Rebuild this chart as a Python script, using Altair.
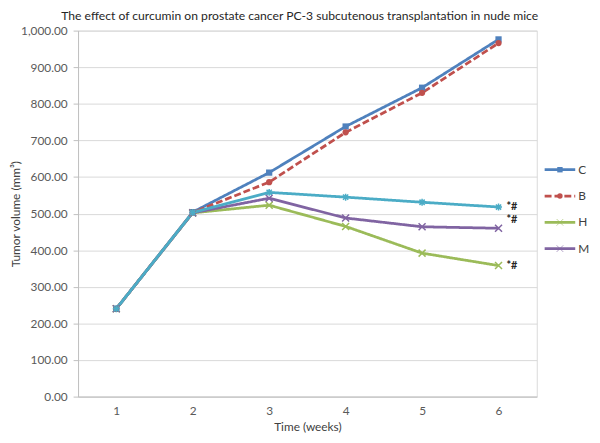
import altair as alt
import pandas as pd

weeks = [1, 2, 3, 4, 5, 6]
series_names = ["C", "B", "H", "M", "L"]
vol_C = [240, 504, 612, 738, 844, 976]
vol_B = [240, 503, 586, 722, 830, 966]
vol_H = [240, 502, 523, 465, 392, 358]
vol_M = [240, 502, 542, 488, 464, 460]
vol_L = [240, 503, 558, 545, 531, 518]
series_colors = ["#4F81BD", "#C0504D", "#9BBB59", "#8064A2", "#4BACC6"]

legend_names = ["C", "B", "H", "M"]
legend_rank = [0, 1, 2, 3]

annot_series = ["L", "M", "H"]
annot_week = [6, 6, 6]
annot_values = [518, 482, 358]
annot_text = ["*#", "*#", "*#"]

y_ticks = [0, 100, 200, 300, 400, 500, 600, 700, 800, 900, 1000]

X_PATH = "M-1,-1L1,1M-1,1L1,-1"
AST_PATH = "M-1,0L1,0M0,-1L0,1M-0.75,-0.75L0.75,0.75M-0.75,0.75L0.75,-0.75"
shape_range = ["square", "circle", X_PATH, X_PATH, AST_PATH]
dash_range = [[1, 0], [7, 3], [1, 0], [1, 0], [1, 0]]

rows = []
for name, vals in zip(series_names, [vol_C, vol_B, vol_H, vol_M, vol_L]):
    for w, v in zip(weeks, vals):
        rows.append({"series": name, "week": w, "volume": v})
df = pd.DataFrame(rows)

annot_df = pd.DataFrame({"series": annot_series, "week": annot_week,
                         "volume": annot_values, "label": annot_text})
legend_df = pd.DataFrame({"series": legend_names, "rank": legend_rank})

color_enc = alt.Color("series:N", scale=alt.Scale(domain=series_names, range=series_colors), legend=None)
dash_enc = alt.StrokeDash("series:N", scale=alt.Scale(domain=series_names, range=dash_range), legend=None)
shape_enc = alt.Shape("series:N", scale=alt.Scale(domain=series_names, range=shape_range), legend=None)

x_enc = alt.X("week:O", scale=alt.Scale(type="point", padding=0.5),
              axis=alt.Axis(title="Time (weeks)", labelAngle=0, ticks=False,
                            domainColor="#BFBFBF", labelPadding=9, titlePadding=5))
y_enc = alt.Y("volume:Q", scale=alt.Scale(domain=[0, 1000], nice=False),
              axis=alt.Axis(title="Tumor volume (mm³)", values=y_ticks, format=",.2f",
                            labelOverlap=False, tickCount=11,
                            gridColor="#D9D9D9", domainColor="#BFBFBF", tickColor="#BFBFBF",
                            tickSize=5, labelPadding=6, titleX=-56))

filled_pred = alt.FieldOneOfPredicate(field="series", oneOf=["C", "B"])
open_pred = alt.FieldOneOfPredicate(field="series", oneOf=["H", "M", "L"])

base = alt.Chart(df)
lines = base.mark_line(strokeWidth=2.8).encode(
    x=x_enc, y=y_enc, color=color_enc, strokeDash=dash_enc,
    order=alt.Order("week:Q"))
pts_filled = base.transform_filter(filled_pred).mark_point(filled=True, size=40, opacity=1).encode(
    x=x_enc, y=y_enc, color=color_enc, shape=shape_enc)
pts_open = base.transform_filter(open_pred).mark_point(
    filled=False, size=50, strokeWidth=1.5, opacity=1).encode(
    x=x_enc, y=y_enc, color=color_enc, shape=shape_enc)
annots = alt.Chart(annot_df).mark_text(align="left", dx=8, fontSize=11, fontWeight="bold",
                                        color="#262626", font="Lato").encode(
    x=x_enc, y=y_enc, text="label:N")

main = alt.layer(lines, pts_filled, pts_open, annots)

leg_y = alt.Y("rank:Q", scale=alt.Scale(domain=[0, 3], range=[141, 221]), axis=None)
leg_base = alt.Chart(legend_df)
leg_lines = leg_base.mark_rule(strokeWidth=2.8).encode(
    x=alt.value(473), x2=alt.value(504), y=leg_y, color=color_enc, strokeDash=dash_enc)
leg_pts = leg_base.transform_filter(filled_pred).mark_point(filled=True, size=30, opacity=1).encode(
    x=alt.value(488.5), y=leg_y, color=color_enc, shape=shape_enc)
leg_pts_open = leg_base.transform_filter(open_pred).mark_point(
    filled=False, size=45, strokeWidth=1, opacity=0.6).encode(
    x=alt.value(488.5), y=leg_y, color=color_enc, shape=shape_enc)
leg_text = leg_base.mark_text(align="left", dx=0, fontSize=12, color="#404040", font="Lato").encode(
    x=alt.value(507), y=leg_y, text="series:N")
legend_layer = alt.layer(leg_lines, leg_pts, leg_pts_open, leg_text)

chart = alt.layer(main, legend_layer).resolve_scale(y="independent").properties(
    width=465, height=371,
    autosize=alt.AutoSizeParams(type="none"),
    padding={"left": 71, "top": 20, "right": 56, "bottom": 36},
    title=alt.Title("The effect of curcumin on prostate cancer PC-3 subcutenous transplantation in nude mice",
                    anchor="start", frame="group", dx=-17, dy=3, fontSize=12.3, font="Lato",
                    fontWeight="normal", color="#262626", offset=5),
).configure_view(stroke="#D9D9D9").configure_axis(
    labelFont="Lato", labelFontSize=12, labelColor="#595959",
    titleFont="Lato", titleFontSize=12, titleFontWeight="normal", titleColor="#404040",
)

chart.save("out.html", embed_options={"renderer": "svg", "actions": False})
